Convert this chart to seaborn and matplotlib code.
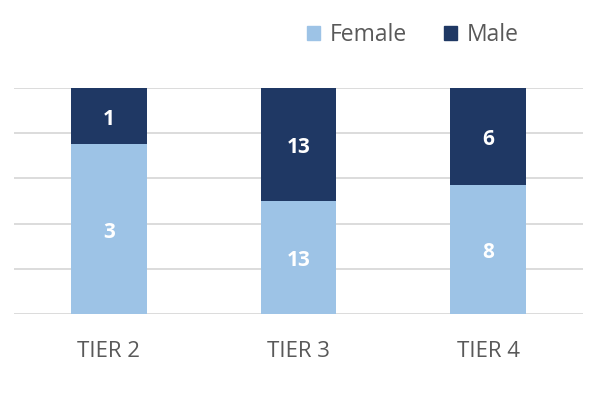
import pandas as pd
import matplotlib.pyplot as plt
import seaborn as sns
from matplotlib.patches import Patch

# counts
tiers = ['TIER 2', 'TIER 3', 'TIER 4']
female = [3, 13, 8]
male = [1, 13, 6]

female_col = '#9DC3E6'
male_col = '#1F3864'

df = pd.DataFrame({'tier': tiers, 'female': female, 'male': male})
df['total'] = df['female'] + df['male']
df['female_pct'] = df['female'] / df['total'] * 100
df['total_pct'] = 100.0

sns.set_style('white')
plt.rcParams['font.family'] = ['Open Sans', 'DejaVu Sans']

fig = plt.figure(figsize=(6.13, 3.95), dpi=100)
ax = fig.add_axes([14 / 613, 1 - 314 / 395, 569 / 613, 226 / 395])

# full bar in male colour, female share drawn over it
sns.barplot(data=df, x='tier', y='total_pct', color=male_col, width=0.4,
            saturation=1, linewidth=0, ax=ax, zorder=3)
sns.barplot(data=df, x='tier', y='female_pct', color=female_col, width=0.4,
            saturation=1, linewidth=0, ax=ax, zorder=3)

# count labels in the middle of each segment
for i, row in df.iterrows():
    ax.annotate(f"{row['female']}", xy=(i, row['female_pct'] / 2),
                xytext=(0, -2.2), textcoords='offset points', ha='center', va='center',
                color='white', fontsize=15, fontweight='bold', zorder=4)
    ax.annotate(f"{row['male']}", xy=(i, row['female_pct'] + (100 - row['female_pct']) / 2),
                xytext=(0, -2.2), textcoords='offset points', ha='center', va='center',
                color='white', fontsize=15, fontweight='bold', zorder=4)

ax.set_xlim(-0.5, 2.5)
ax.set_ylim(0, 100)
ax.set_yticks([0, 20, 40, 60, 80, 100])
ax.yaxis.grid(True, color='#D9D9D9', linewidth=1.3, zorder=0)
ax.tick_params(axis='y', left=False, labelleft=False)
ax.tick_params(axis='x', bottom=False, colors='#595959', labelsize=16, pad=16)
ax.set_xlabel('')
ax.set_ylabel('')
sns.despine(ax=ax, left=True, bottom=True)

handles = [Patch(color=female_col, label='Female'), Patch(color=male_col, label='Male')]
fig.legend(handles=handles, loc='center', bbox_to_anchor=(413 / 613, 1 - 35 / 395),
           ncol=2, frameon=False, fontsize=16.5, handlelength=0.55, handleheight=0.55,
           handletextpad=0.45, columnspacing=1.6, labelcolor='#595959')

fig.savefig('out.png', dpi=100)
